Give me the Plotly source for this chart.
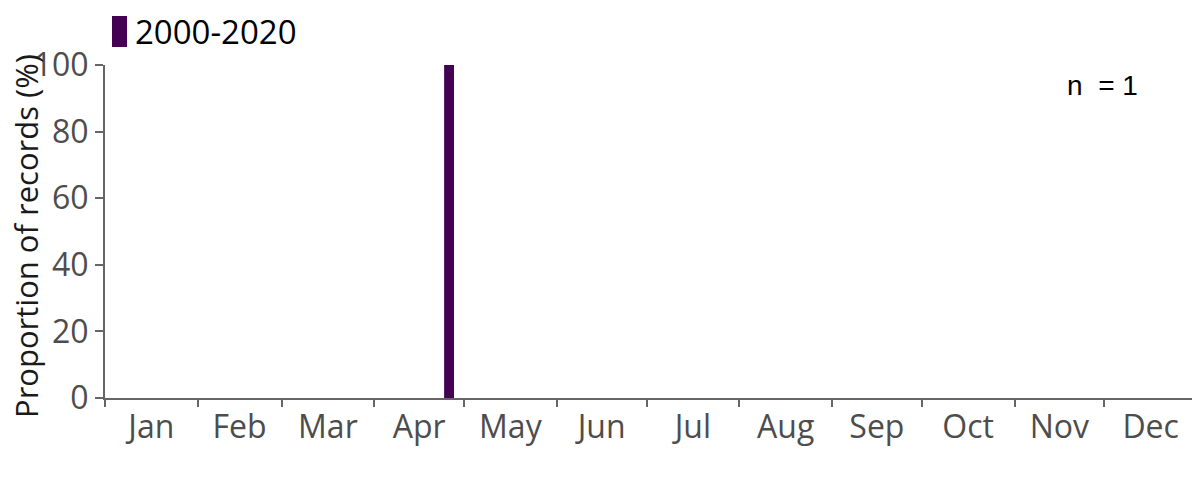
"""
Seasonal distribution of records, proportion by day of year.
"""

import plotly.graph_objects as go

MONTHS = ["Jan", "Feb", "Mar", "Apr", "May", "Jun",
          "Jul", "Aug", "Sep", "Oct", "Nov", "Dec"]
MONTH_DAYS = [31, 28, 31, 30, 31, 30, 31, 31, 30, 31, 30, 31]

PERIOD = "2000-2020"
DAY_OF_YEAR = [115]
PROPORTION = [100]
N_RECORDS = 1

BAR_COLOR = "#440154"
AXIS_COLOR = "#666666"
TICK_FONT = dict(family="Open Sans", size=32, color="#4d4d4d")

# month boundaries and mid points on the day axis
bounds = [0]
for d in MONTH_DAYS:
    bounds.append(bounds[-1] + d)
mids = [(a + b) / 2 for a, b in zip(bounds[:-1], bounds[1:])]

# plot area in page pixels (page body adds an 8px offset)
PLOT_W = 1092
PLOT_H = 333

fig = go.Figure(
    go.Bar(
        x=DAY_OF_YEAR,
        y=PROPORTION,
        width=3.3,
        name=PERIOD,
        marker_color=BAR_COLOR,
        marker_line_width=0,
        showlegend=False,
    )
)

fig.update_layout(
    width=1200,
    height=480,
    paper_bgcolor="white",
    plot_bgcolor="white",
    margin=dict(l=97, r=11, t=57, b=90),
    xaxis=dict(
        range=[0, 365],
        automargin=False,
        tickvals=mids,
        ticktext=MONTHS,
        ticks="",
        tickfont=TICK_FONT,
        showgrid=False,
        zeroline=False,
        showline=True,
        linecolor=AXIS_COLOR,
        linewidth=2,
        minor=dict(tickvals=bounds, ticks="outside", ticklen=7,
                   tickwidth=2, tickcolor=AXIS_COLOR, showgrid=False),
    ),
    yaxis=dict(
        range=[0, 100],
        automargin=False,
        tickvals=[0, 20, 40, 60, 80, 100],
        ticks="outside",
        ticklen=8,
        tickwidth=2,
        tickcolor=AXIS_COLOR,
        tickfont=TICK_FONT,
        showgrid=False,
        zeroline=False,
        showline=True,
        linecolor=AXIS_COLOR,
        linewidth=2,
    ),
    shapes=[
        dict(type="rect", xref="paper", yref="paper",
             x0=(112 - 105) / PLOT_W, x1=(127 - 105) / PLOT_W,
             y0=1 + (65 - 47) / PLOT_H, y1=1 + (65 - 16) / PLOT_H,
             fillcolor=BAR_COLOR, line_width=0),
    ],
    annotations=[
        # y-axis title
        dict(text="Proportion of records (%)", xref="paper", yref="paper",
             x=(26 - 105) / PLOT_W, y=1 - (236 - 65) / PLOT_H,
             textangle=-90, xanchor="center", yanchor="middle",
             showarrow=False,
             font=dict(family="Open Sans", size=31, color="#1a1a1a")),
        # legend label
        dict(text=PERIOD, xref="paper", yref="paper",
             x=(133 - 105) / PLOT_W, y=1 + (65 - 32) / PLOT_H,
             xanchor="left", yanchor="middle", showarrow=False,
             font=dict(family="Open Sans", size=33, color="black")),
        dict(text=f"n\u00a0\u00a0= {N_RECORDS}", xref="paper", yref="paper",
             x=(1102 - 105) / PLOT_W, y=1 - (85 - 65) / PLOT_H,
             xanchor="center", yanchor="middle", showarrow=False,
             font=dict(family="Liberation Sans", size=28, color="black")),
    ],
)

fig.write_html("out.html")
